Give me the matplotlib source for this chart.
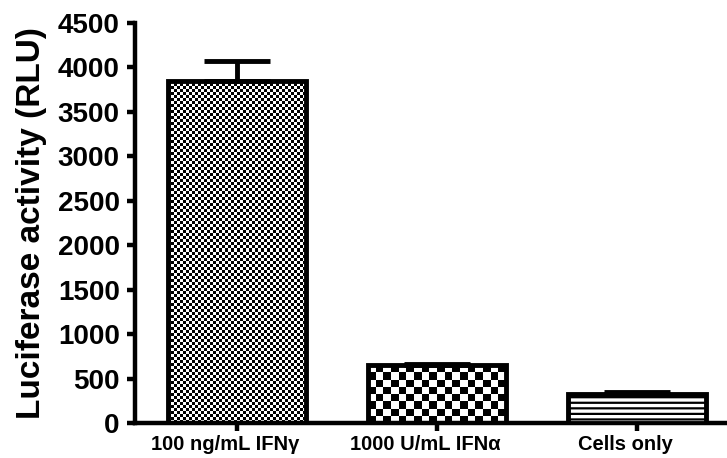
import numpy as np
import matplotlib
matplotlib.use("Agg")
import matplotlib.pyplot as plt
import matplotlib.transforms as mtransforms

categories = ["100 ng/mL IFNγ", "1000 U/mL IFNα", "Cells only"]
values = [3850, 650, 325]
errors_up = [225, 15, 20]
y_ticks = [0, 500, 1000, 1500, 2000, 2500, 3000, 3500, 4000, 4500]

plt.rcParams['font.family'] = ['Liberation Sans', 'DejaVu Sans']
plt.rcParams['font.weight'] = 'bold'
plt.rcParams['hatch.linewidth'] = 1.6

fig = plt.figure(figsize=(7.27, 4.58), dpi=100)
ax = fig.add_axes([135/727, 1-423/458, 1-135/727, (423-23)/458])

x = np.arange(len(categories))
bars = ax.bar(x, values, width=0.69, facecolor='none', edgecolor='black',
              linewidth=3.5, zorder=3)
ax.set_xlim(-0.51, 2.45)
ax.set_ylim(0, 4500)

def checker(bar, cell_px):
    x0, y0 = bar.get_x(), bar.get_y()
    w, h = bar.get_width(), bar.get_height()
    p0 = ax.transData.transform((x0, y0))
    p1 = ax.transData.transform((x0 + w, y0 + h))
    nx = max(1, int(round((p1[0] - p0[0]) / cell_px)))
    ny = max(1, int(round((p1[1] - p0[1]) / cell_px)))
    arr = np.add.outer(np.arange(ny), np.arange(nx)) % 2
    im = ax.imshow(arr, cmap='gray', extent=(x0, x0 + w, y0, y0 + h),
                   origin='lower', interpolation='nearest', aspect='auto',
                   zorder=2)
    im.set_clip_path(bar)

checker(bars[0], 3.0)
checker(bars[1], 7.5)
bars[2].set_facecolor('white')
bars[2].set_hatch('---')
bars[2].set_zorder(3)

ax.set_xlim(-0.51, 2.45)
ax.set_ylim(0, 4500)

ax.errorbar(x, values, yerr=[np.zeros(len(values)), errors_up], fmt='none',
            ecolor='black', elinewidth=3.5, capsize=24, capthick=3.5, zorder=4)

for s in ['top', 'right']:
    ax.spines[s].set_visible(False)
for s in ['left', 'bottom']:
    ax.spines[s].set_linewidth(3.2)

ax.set_yticks(y_ticks)
ax.set_yticklabels([str(v) for v in y_ticks], fontsize=20, fontweight='bold')
ax.set_xticks(x)
ax.set_xticklabels(categories, fontsize=14.5, fontweight='bold')
ax.tick_params(axis='both', width=3.2, length=6)
ax.tick_params(axis='y', pad=5)
ax.tick_params(axis='x', pad=3)
ax.set_ylabel("Luciferase activity (RLU)", fontsize=24, fontweight='bold', labelpad=8)

offset = mtransforms.ScaledTranslation(-12/100, 0, fig.dpi_scale_trans)
for lab in ax.get_xticklabels():
    lab.set_transform(lab.get_transform() + offset)

fig.savefig("out.png", dpi=100)
